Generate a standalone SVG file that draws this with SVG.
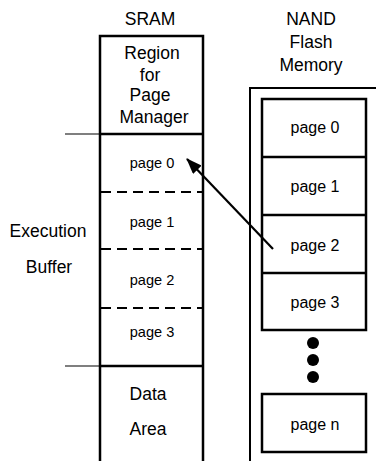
<svg xmlns="http://www.w3.org/2000/svg" width="376" height="461" viewBox="0 0 376 461">
<style>
text{font-family:"Liberation Sans",Arial,sans-serif;fill:#000;text-anchor:middle}
.big{font-size:17.5px}
.sp{font-size:14.6px}
.np{font-size:16px}
.box{fill:none;stroke:#000;stroke-width:2.5}
.thin{fill:none;stroke:#000;stroke-width:1.2}
.dash{fill:none;stroke:#000;stroke-width:2;stroke-dasharray:10 6}
</style>
<defs>
<marker id="ah" markerWidth="16" markerHeight="12" refX="15" refY="6" orient="auto" markerUnits="userSpaceOnUse">
<path d="M0,0 L16,6 L0,12 Z" fill="#000"/>
</marker>
</defs>
<rect width="376" height="461" fill="#fff"/>
<g id="sram">
<text class="big" x="150" y="25">SRAM</text>
<path class="box" d="M100,470 V36 H203 V470"/>
<line class="box" x1="100" y1="134" x2="203" y2="134"/>
<line class="box" x1="100" y1="366" x2="203" y2="366"/>
<line class="dash" x1="101" y1="192" x2="203" y2="192"/>
<line class="dash" x1="101" y1="249" x2="203" y2="249"/>
<line class="dash" x1="101" y1="308" x2="203" y2="308"/>
<text class="big" x="152" y="59">Region</text>
<text class="big" x="150" y="80.5">for</text>
<text class="big" x="150" y="101">Page</text>
<text class="big" x="154" y="122.5">Manager</text>
<text class="sp" x="152" y="168">page 0</text>
<text class="sp" x="152" y="227">page 1</text>
<text class="sp" x="152" y="285">page 2</text>
<text class="sp" x="152" y="337">page 3</text>
<text class="big" x="148" y="400">Data</text>
<text class="big" x="148" y="435">Area</text>
</g>
<g id="execbuf">
<line class="thin" x1="65" y1="134" x2="100" y2="134"/>
<line class="thin" x1="65" y1="366" x2="100" y2="366"/>
<text class="big" x="48" y="237">Execution</text>
<text class="big" x="49" y="273">Buffer</text>
</g>
<g id="nand">
<text class="big" x="311" y="25">NAND</text>
<text class="big" x="311" y="48">Flash</text>
<text class="big" x="311" y="71">Memory</text>
<path fill="none" stroke="#000" stroke-width="2" d="M250,470 V88 H380"/>
<rect class="box" x="262" y="99" width="104" height="231"/>
<line class="box" x1="262" y1="157" x2="366" y2="157"/>
<line class="box" x1="262" y1="215" x2="366" y2="215"/>
<line class="box" x1="262" y1="273" x2="366" y2="273"/>
<text class="np" x="315" y="133">page 0</text>
<text class="np" x="315" y="192">page 1</text>
<text class="np" x="315" y="251">page 2</text>
<text class="np" x="315" y="308">page 3</text>
<circle cx="313" cy="343" r="6"/>
<circle cx="313" cy="360" r="6"/>
<circle cx="313" cy="377" r="6"/>
<rect class="box" x="262" y="394" width="104" height="58"/>
<text class="np" x="315" y="430">page n</text>
</g>
<g id="connectors">
<line x1="273" y1="249" x2="187" y2="159" stroke="#000" stroke-width="2.2" marker-end="url(#ah)"/>
</g>
</svg>
